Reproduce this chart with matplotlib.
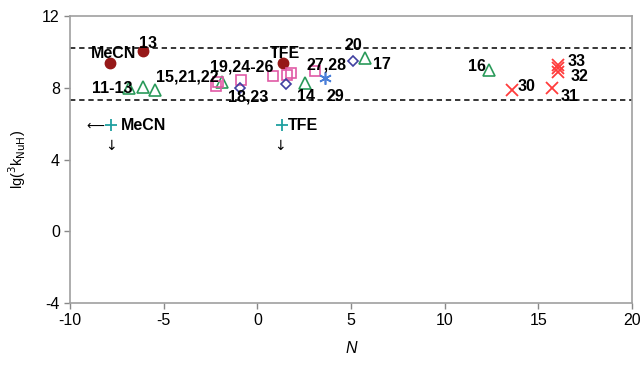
import matplotlib
matplotlib.use("Agg")
import matplotlib.pyplot as plt

plt.rcParams['font.family'] = ['Liberation Sans', 'DejaVu Sans']
plt.rcParams['axes.unicode_minus'] = False

# Data (N, lg k)
circ_x = [-7.86, -6.12, 1.36]
circ_y = [9.38, 10.07, 9.40]
tri_x = [-6.85, -6.09, -5.48, -1.87, 2.53, 5.75, 12.37]
tri_y = [7.97, 8.03, 7.88, 8.34, 8.25, 9.64, 8.99]
sq_x = [-2.1, -2.2, -0.89, 0.82, 1.56, 1.8, 3.1]
sq_y = [8.3, 8.1, 8.43, 8.67, 8.71, 8.8, 8.92]
dia_x = [-0.92, 1.52, 5.09]
dia_y = [7.97, 8.21, 9.49]
star_x = [3.6]
star_y = [8.55]
x_x = [13.6, 15.73, 16.07, 16.07, 16.05]
x_y = [7.88, 7.98, 9.3, 9.1, 8.9]
plus_x = [-7.81, 1.30]
plus_y = [5.92, 5.92]
hlines = [10.22, 7.33]

labels = ["MeCN", "13", "TFE", "19,24-26", "15,21,22", "11-13", "18,23", "14",
          "27,28", "29", "20", "17", "16", "30", "33", "32", "31"]
label_x = [-7.69, -5.82, 1.48, -0.83, -3.77, -7.78, -0.48, 2.6,
           3.7, 4.15, 5.13, 6.64, 11.71, 14.38, 17.05, 17.23, 16.7]
label_y = [9.92, 10.48, 9.92, 9.17, 8.62, 7.97, 7.5, 7.5,
           9.27, 7.5, 10.38, 9.31, 9.21, 8.06, 9.47, 8.62, 7.5]

xticks = [-10, -5, 0, 5, 10, 15, 20]
yticks = [-4, 0, 4, 8, 12]

fig = plt.figure(figsize=(6.44, 3.66), dpi=100)
ax = fig.add_axes([0.109, 0.172, 0.872, 0.784])

for yv in hlines:
    ax.axhline(yv, color='black', lw=1.1, ls=(0, (3.5, 2.5)), zorder=1)

ax.plot(circ_x, circ_y, 'o', color='#961818', ms=7.5, ls='none', zorder=3)
ax.plot(tri_x, tri_y, '^', mfc='none', mec='#2a9a5a', mew=1.2, ms=8, ls='none', zorder=3)
ax.plot(sq_x, sq_y, 's', mfc='none', mec='#e05aa5', mew=1.2, ms=7, ls='none', zorder=3)
ax.plot(dia_x, dia_y, 'D', mfc='none', mec='#4040a0', mew=1.2, ms=5.5, ls='none', zorder=3)
ax.plot(star_x, star_y, marker=(6, 2, 0), color='#4a7fd8', mew=1.2, ms=9, ls='none', zorder=3)
ax.plot(x_x, x_y, 'x', color='#ff3b3b', mew=1.3, ms=8, ls='none', zorder=3)
ax.plot(plus_x, plus_y, '+', color='#20a0a0', mew=1.3, ms=8, ls='none', zorder=3)

for t, lx, ly in zip(labels, label_x, label_y):
    ax.text(lx, ly, t, fontsize=11.5, fontweight='bold', ha='center', va='center', zorder=4)

# solvent annotations
ax.text(-7.3, 5.92, "MeCN", fontsize=11.5, fontweight='bold', ha='left', va='center')
ax.text(1.65, 5.92, "TFE", fontsize=11.5, fontweight='bold', ha='left', va='center')
ax.text(-8.2, 5.85, "\u27f5", fontsize=9, ha='right', va='center', family=['DejaVu Sans'])
ax.text(-7.81, 4.75, "\u2193", fontsize=10, ha='center', va='center', family=['DejaVu Sans'])
ax.text(1.20, 4.75, "\u2193", fontsize=10, ha='center', va='center', family=['DejaVu Sans'])

ax.set_xlim(-10, 20)
ax.set_ylim(-4, 12)
ax.set_xticks(xticks)
ax.set_yticks(yticks)
ax.tick_params(colors='#888888', labelcolor='black', labelsize=11.5, length=4, width=1)
for s in ax.spines.values():
    s.set_color('#a0a0a0')
    s.set_linewidth(1.2)

ax.set_xlabel("N", fontstyle='italic', fontsize=11.5, labelpad=9)
ax.set_ylabel(r"lg($^3$k$_{\mathrm{NuH}}$)", fontsize=10.5, labelpad=10)

fig.savefig("out.png", dpi=100)
